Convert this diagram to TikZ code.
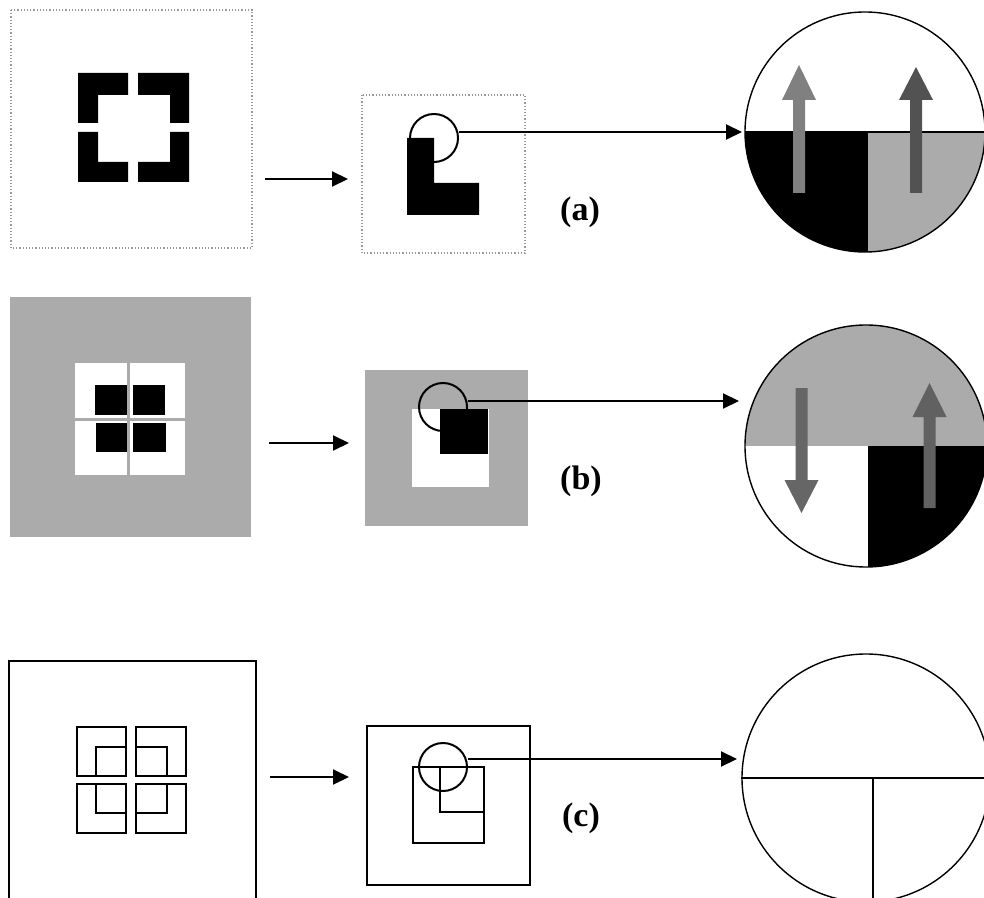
\documentclass[tikz,border=0pt]{standalone}
\usepackage{fontspec}
\setmainfont{Liberation Serif}
\usetikzlibrary{arrows.meta}

\newcommand{\spinarrow}[5]{\fill[#5] (#1-6,#2) -- (#1+6,#2) -- (#1+6,#3) -- (#1+17,#3) -- (#1,#4) -- (#1-17,#3) -- (#1-6,#3) -- cycle;}

\tikzset{
	flow/.style={line width=1pt,-{Triangle[length=8pt,width=7.5pt]}},
	lens/.style={shape=circle,draw=black,line width=1pt,minimum size=24pt,inner sep=0pt},
	magnified/.style={shape=circle,draw=black,line width=0.7pt,minimum size=#1,inner sep=0pt},
	faintframe/.style={draw=black!40,densely dotted,line width=0.6pt},
	boxframe/.style={draw=black,line width=0.8pt},
	stipple/.style={fill=black!33},
	tag/.style={font=\fontsize{17}{20}\selectfont\bfseries},
}

\begin{document}
\begin{tikzpicture}[x=0.5pt,y=-0.5pt]
	\useasboundingbox (0,0) rectangle (984,898);
	\clip (0,0) rectangle (984,898);
	
	% (a)
	\draw[faintframe] (11,10) rectangle (252,248);
	\fill (78,73) -- (128,73) -- (128,95) -- (98,95) -- (98,123) -- (78,123) -- cycle;
	\fill (138,73) -- (189,73) -- (189,123) -- (170,123) -- (170,95) -- (138,95) -- cycle;
	\fill (78,132) -- (98,132) -- (98,162) -- (128,162) -- (128,182) -- (78,182) -- cycle;
	\fill (170,132) -- (189,132) -- (189,182) -- (138,182) -- (138,162) -- (170,162) -- cycle;
	\coordinate (a1) at (265,179);
	\coordinate (a2) at (348,179);
	\draw[flow] (a1) -- (a2);
	\draw[faintframe] (362,95) rectangle (525,253);
	\fill (407,138) -- (434,138) -- (434,183) -- (479,183) -- (479,215) -- (407,215) -- cycle;
	\node[lens] (lensA) at (434,138) {};
	\node[tag] (tagA) at (580,212) {(a)};
	\begin{scope}
		\clip (865,132) circle [radius=120];
		\fill (740,132) rectangle (868,260);
		\fill[stipple] (868,132) rectangle (990,260);
		\draw[line width=0.7pt] (740,132) -- (990,132);
	\end{scope}
	\spinarrow{799}{193}{100}{65}{black!50}
	\spinarrow{916}{193}{100}{67}{black!68}
	\node[magnified=120pt] (magA) at (865,132) {};
	\coordinate (tipA) at (742,132);
	\draw[flow] (lensA.east |- tipA) -- (tipA);
	
	% (b)
	\fill[stipple] (10,297) rectangle (251,537);
	\fill[white] (75,363) rectangle (185,475);
	\draw[black!33,line width=1.5pt] (128,363) -- (128,475);
	\draw[black!33,line width=1.5pt] (75,419) -- (185,419);
	\fill (95,385) rectangle (127,415);
	\fill (133,385) rectangle (165,415);
	\fill (96,423) rectangle (127,452);
	\fill (133,423) rectangle (166,452);
	\coordinate (b1) at (269,443);
	\coordinate (b2) at (349,443);
	\draw[flow] (b1) -- (b2);
	\fill[stipple] (365,370) rectangle (528,526);
	\fill[white] (412,409) rectangle (489,487);
	\fill (440,409) rectangle (488,454);
	\node[lens] (lensB) at (443,407) {};
	\node[tag] (tagB) at (581,481) {(b)};
	\begin{scope}
		\clip (866,446) circle [radius=121];
		\fill[stipple] (740,320) rectangle (990,446);
		\fill (868,446) rectangle (990,570);
	\end{scope}
	\spinarrow{801.5}{388}{480}{513}{black!60}
	\spinarrow{929.5}{508}{417}{383}{black!62}
	\node[magnified=121pt] (magB) at (866,446) {};
	\coordinate (tipB) at (739,401);
	\draw[flow] (lensB.east |- tipB) -- (tipB);
	
	% (c)
	\draw[boxframe] (9,905) -- (9,661) -- (256,661) -- (256,905);
	\draw[boxframe] (77,727) rectangle (126,776) (96,747) rectangle (126,776);
	\draw[boxframe] (136,727) rectangle (186,776) (136,747) rectangle (167,776);
	\draw[boxframe] (77,784) rectangle (126,833) (96,784) rectangle (126,813);
	\draw[boxframe] (136,784) rectangle (186,833) (136,784) rectangle (167,813);
	\coordinate (c1) at (270,777);
	\coordinate (c2) at (349,777);
	\draw[flow] (c1) -- (c2);
	\draw[boxframe] (367,726) rectangle (530,885);
	\draw[boxframe] (413,767) rectangle (484,843) (440,767) rectangle (484,812);
	\node[lens] (lensC) at (443,767) {};
	\node[tag] (tagC) at (581,818) {(c)};
	\node[magnified=124pt] (magC) at (866,778) {};
	\draw[boxframe] (magC.west) -- (990,778);
	\draw[boxframe] (873,778) -- (873,905);
	\coordinate (tipC) at (737,759);
	\draw[flow] (lensC.east |- tipC) -- (tipC);
	
\end{tikzpicture}
\end{document}
